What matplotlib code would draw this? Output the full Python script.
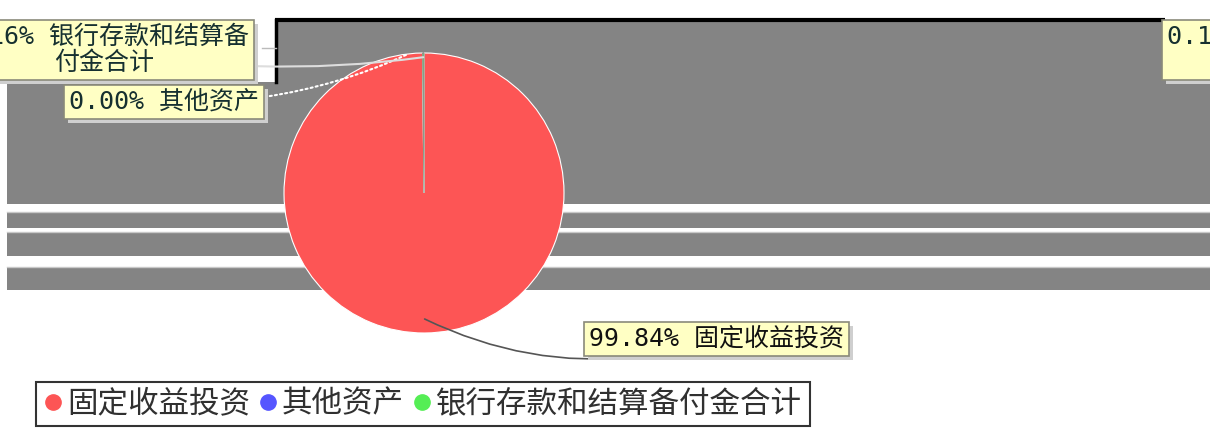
import matplotlib
matplotlib.use("Agg")
import matplotlib.pyplot as plt
import numpy as np
from matplotlib.patches import Polygon, Rectangle
from matplotlib.lines import Line2D
import matplotlib.patheffects as pe

plt.rcParams['font.family'] = ['DejaVu Sans Mono', 'Noto Sans CJK SC']

# ---- data ----
categories = ['固定收益投资', '其他资产', '银行存款和结算备付金合计']
shares = [99.84, 0.00, 0.16]
colors = ['#fd5555', '#5555ff', '#55ee55']
label_texts = ['99.84% 固定收益投资', '0.00% 其他资产', '0.16% 银行存款和结算备\n付金合计']

W, H = 1210, 430
fig = plt.figure(figsize=(W / 100, H / 100), dpi=100)
fig.patch.set_facecolor('white')

# ---- background decoration (image-pixel coords, y down) ----
bg = fig.add_axes([0, 0, 1, 1])
bg.set_xlim(0, W)
bg.set_ylim(H, 0)
bg.axis('off')
gray = '#848484'
bg.add_patch(Polygon([(7, 82), (278, 82), (278, 21), (W, 21), (W, 290), (7, 290)],
                     closed=True, facecolor=gray, edgecolor='none'))
for y0, y1 in [(204, 212), (228, 232), (256, 267)]:
    bg.add_patch(Rectangle((7, y0), W, y1 - y0, facecolor='white', edgecolor='none'))
    bg.plot([7, W], [y1, y1], color='#c8c8c8', lw=1)
bg.plot([275, 1165], [20, 20], color='black', lw=3, solid_capstyle='butt')
bg.plot([276, 276], [20, 82], color='black', lw=2.5)
bg.plot([262, 276], [48, 48], color='#bbbbbb', lw=1)

# ---- pie ----
cx, cy, r = 424, 193, 140
ax = fig.add_axes([(cx - r) / W, (H - cy - r) / H, 2 * r / W, 2 * r / H])
wedges, _ = ax.pie(shares, colors=colors, startangle=90, counterclock=False,
                   wedgeprops=dict(edgecolor='white', linewidth=0.8))
wedges[2].set_edgecolor('#8a9a8a')
ax.set_xlim(-1, 1)
ax.set_ylim(-1, 1)
ax.set_aspect('auto')
ax.axis('off')

def anchor(w, rr):
    a = np.deg2rad((w.theta1 + w.theta2) / 2)
    return rr * np.cos(a), rr * np.sin(a)

box = dict(boxstyle='square,pad=0.2', facecolor='#ffffc4', edgecolor='#8a8a7a', linewidth=1.2)
shadow = [pe.withSimplePatchShadow(offset=(3, -3), shadow_rgbFace='#cfcfcf', alpha=1)]
FS = 18

# 99.84%
t0 = ax.annotate(label_texts[0], xy=anchor(wedges[0], 0.9), xycoords='data',
                 xytext=(589, H - 339), textcoords='figure pixels',
                 ha='left', va='center', fontsize=FS, color='#111111', bbox=box,
                 arrowprops=dict(arrowstyle='-', color='#555555', lw=1.2,
                                 connectionstyle='arc3,rad=-0.2', shrinkA=0, shrinkB=0))
# 0.00%
t1 = ax.annotate(label_texts[1], xy=(-0.12, 0.99), xycoords='data',
                 xytext=(69, H - 102), textcoords='figure pixels',
                 ha='left', va='center', fontsize=FS, color='#163030', bbox=box,
                 arrowprops=dict(arrowstyle='-', color='white', lw=1.5, linestyle=(0, (1, 1.5)),
                                 connectionstyle='arc3,rad=0.12', shrinkA=0, shrinkB=0))
# 0.16%
t2 = ax.annotate(label_texts[2], xy=anchor(wedges[2], 0.97), xycoords='data',
                 xytext=(104, H - 50), textcoords='figure pixels',
                 ha='center', va='center', multialignment='center',
                 fontsize=FS, color='#163030', bbox=box, linespacing=1.1,
                 arrowprops=dict(arrowstyle='-', color='#dddddd', lw=1.5,
                                 connectionstyle='arc3,rad=0.08', shrinkA=0, shrinkB=0))
# duplicate label cut off at the right edge, as in the reference
t3 = fig.text(1167, H - 50, label_texts[2], transform=None, ha='left', va='center',
              multialignment='center', fontsize=FS, color='#163030', linespacing=1.1,
              bbox=dict(boxstyle='square,pad=0.2', facecolor='#ffffc4',
                        edgecolor='#8a8a7a', linewidth=1.2))
for t in (t0, t1, t2, t3):
    t.get_bbox_patch().set_path_effects(shadow)

# ---- legend ----
handles = [Line2D([0], [0], marker='o', linestyle='none', markersize=11,
                  markerfacecolor=c, markeredgecolor=c) for c in colors]
leg = fig.legend(handles, categories, loc='center', bbox_to_anchor=(423 / W, 26 / H),
                 ncol=3, fontsize=22, frameon=True, fancybox=False, handlelength=0.6,
                 handletextpad=0.15, columnspacing=0.3, borderpad=0.25, edgecolor='black',
                 labelcolor='#303030')
leg.get_frame().set_linewidth(1.5)

fig.savefig('out.png', dpi=100, facecolor='white')
